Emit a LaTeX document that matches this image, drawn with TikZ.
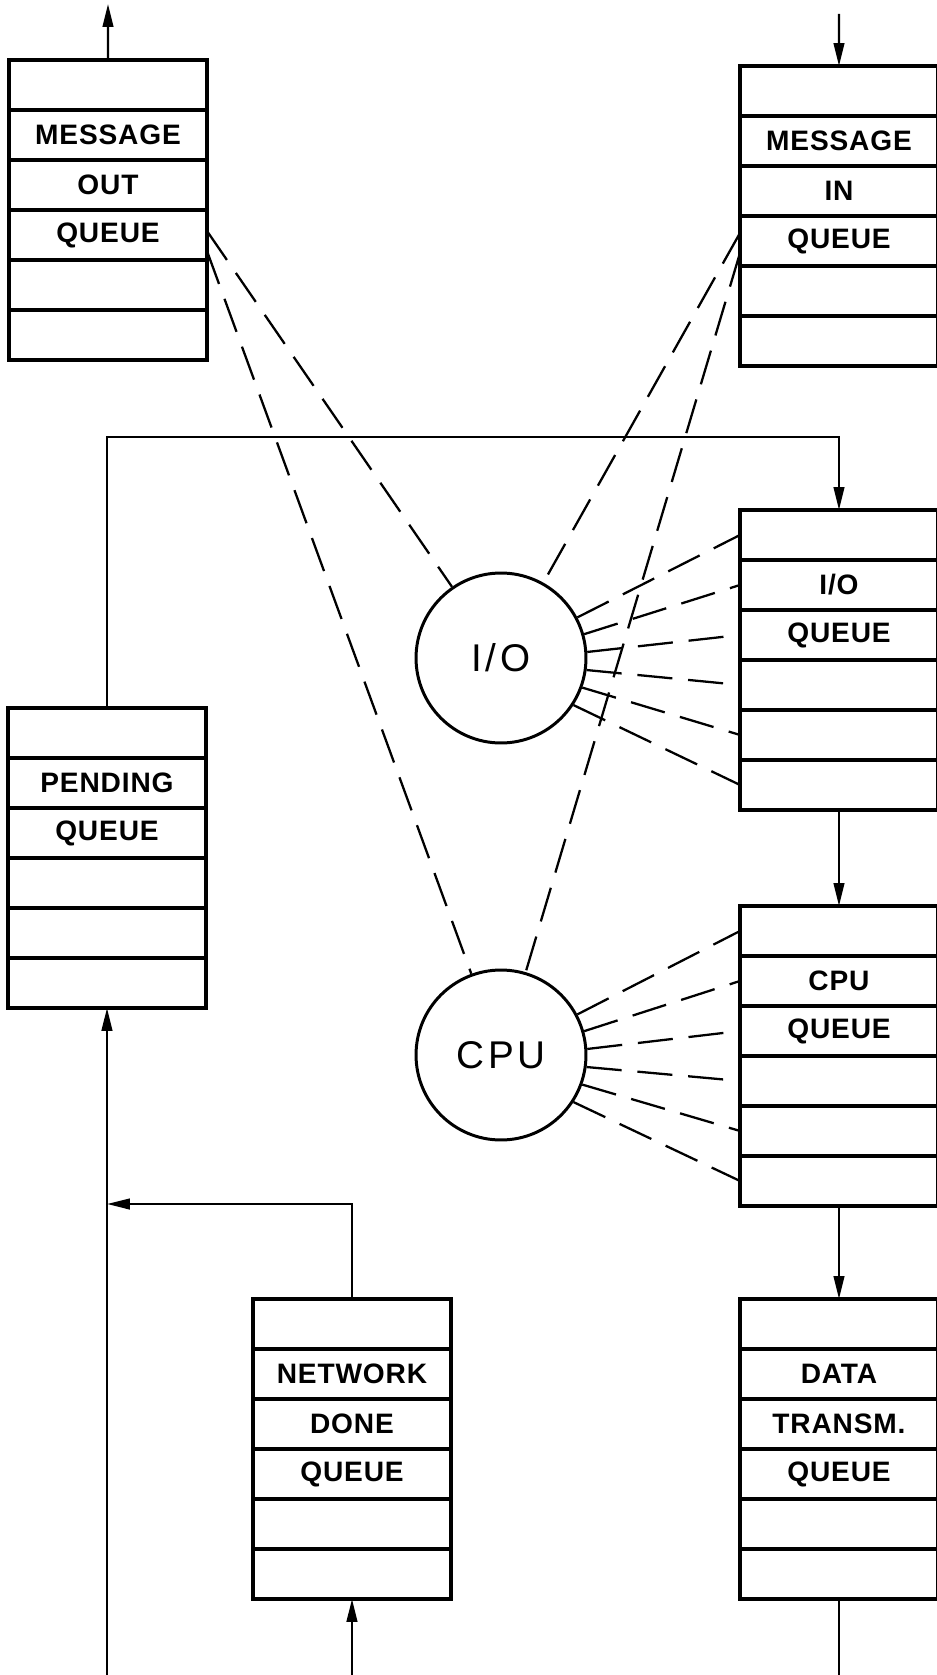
\documentclass[tikz,border=0pt]{standalone}
\usepackage{fontspec}
\setmainfont{Liberation Sans}
\newfontfamily\qfont[LetterSpace=3]{Liberation Sans}
\newfontfamily\cfont[LetterSpace=10]{Liberation Sans}
\usepackage{tikz}
\usetikzlibrary{positioning,arrows.meta}
% one queue: six slots stacked, text in slots 2-4
\newcommand{\qstack}[5]{%
  \node[qcell, anchor=north west] (#1-1) at (#2) {};
  \node[qcell, below=0pt of #1-1] (#1-2) {#3};
  \node[qcell, below=0pt of #1-2] (#1-3) {#4};
  \node[qcell, below=0pt of #1-3] (#1-4) {#5};
  \node[qcell, below=0pt of #1-4] (#1-5) {};
  \node[qcell, below=0pt of #1-5] (#1-6) {};
}

\begin{document}
\begin{tikzpicture}[x=0.02cm, y=-0.02cm,
    qcell/.style={draw, line width=2pt, minimum width=3.96cm, minimum height=1cm, inner sep=0pt, outer sep=0pt, font=\qfont\bfseries\fontsize{16}{18}\selectfont},
    proc/.style={circle, draw, line width=1.7pt, minimum size=3.4cm, inner sep=0pt, font=\cfont\fontsize{22}{24}\selectfont},
    flow/.style={line width=1.4pt, -{Triangle[length=13pt, width=6pt]}},
    wire/.style={line width=1.4pt},
    link/.style={line width=1.3pt, dash pattern=on 20pt off 9pt}]
  \useasboundingbox (0,0) rectangle (936,1675);

  \qstack{mout}{9,60}{MESSAGE}{OUT}{QUEUE}
  \qstack{min}{740,66}{MESSAGE}{IN}{QUEUE}
  \qstack{pend}{8,708}{PENDING}{QUEUE}{}
  \qstack{ioq}{740,510}{I/O}{QUEUE}{}
  \qstack{cpuq}{740,906}{CPU}{QUEUE}{}
  \qstack{netq}{253,1299}{NETWORK}{DONE}{QUEUE}
  \qstack{dataq}{740,1299}{DATA}{TRANSM.}{QUEUE}

  \node[proc] (io) at (501,658) {I/O};
  \node[proc] (cpu) at (501,1055) {CPU};

  % solid flow between queues
  \coordinate (outend) at (108,4);
  \coordinate (inbeg) at (839,14);
  \draw[flow] (mout-1.north) -- (outend);
  \draw[flow] (inbeg) -- (min-1.north);
  \path (ioq-1.north) ++(0,-73) coordinate (ptop);
  \draw[flow] (pend-1.north) |- (ptop) -- (ioq-1.north);
  \draw[flow] (ioq-6.south) -- (cpuq-1.north);
  \draw[flow] (cpuq-6.south) -- (dataq-1.north);
  \coordinate (dataout) at (dataq-6.south |- 0,1680);
  \draw[wire] (dataq-6.south) -- (dataout);
  \coordinate (netin) at (netq-6.south |- 0,1680);
  \draw[flow] (netin) -- (netq-6.south);
  \coordinate (join) at (pend-6.south |- 0,1204);
  \draw[flow] (netq-1.north) |- (join);
  \coordinate (pendin) at (pend-6.south |- 0,1680);
  \draw[flow] (pendin) -- (pend-6.south);

  % dashed service links
  \draw[link] ([yshift=0.08cm]mout-4.east) -- (io);
  \draw[link] ([yshift=-0.32cm]mout-4.east) -- (cpu);
  \draw[link] ([yshift=0.16cm]min-4.west) -- (io);
  \draw[link] ([yshift=-0.24cm]min-4.west) -- (cpu);
  \foreach \i/\a in {1/28,2/16,3/4,4/-8,5/-20,6/-33}{
    \draw[link] (io.\a) -- (ioq-\i.west);
    \draw[link] (cpu.\a) -- (cpuq-\i.west);
  }
\end{tikzpicture}
\end{document}
